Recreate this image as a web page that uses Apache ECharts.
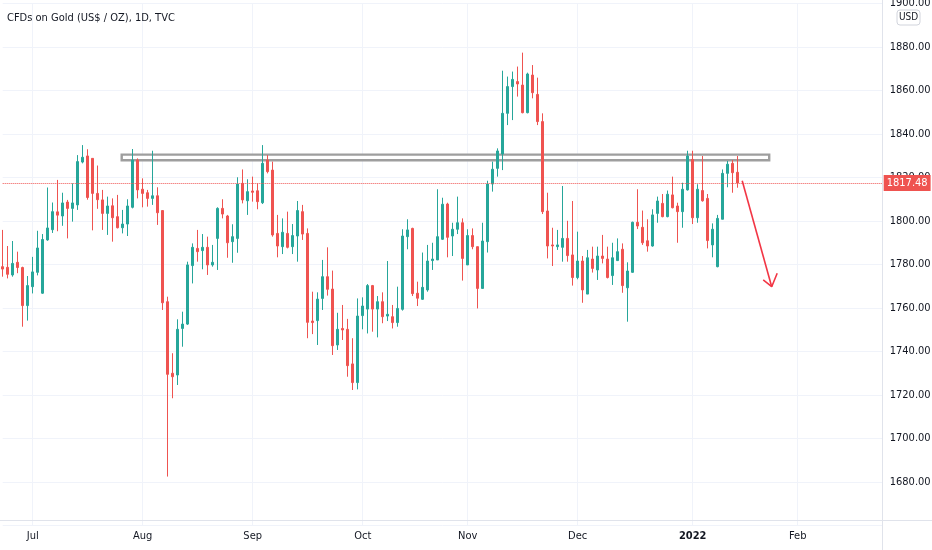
<!DOCTYPE html>
<html>
<head>
<meta charset="utf-8">
<script src="https://cdn.jsdelivr.net/npm/echarts@6/dist/echarts.min.js"></script>
<style>
html,body{margin:0;padding:0;background:#ffffff;}
#chart{width:932px;height:550px;}
</style>
</head>
<body>
<div id="chart"></div>
<script>
// ---- Data (daily candles, 23 Jun 2021 - 14 Jan 2022) ----
const titleText = 'CFDs on Gold (US$ / OZ), 1D, TVC';
const firstTradingDay = [2021, 5, 23];   // 23 Jun 2021 (month is 0-based)
const axisCategoryCount = 177;            // weekday slots shown on the time axis
const lastPrice = 1817.48;

const openPrices = [
  1779.0,1778.7,1775.2,1781.0,1778.6,1761.1,1769.8,1776.4,1766.8,1791.3,
  1796.0,1804.2,1802.3,1808.7,1805.8,1807.4,1827.1,1829.9,1828.8,1812.7,
  1809.7,1803.5,1807.0,1802.0,1796.9,1798.6,1806.3,1828.0,1814.6,1813.0,
  1810.4,1811.6,1804.8,1762.9,1730.0,1729.2,1750.6,1752.6,1779.5,1787.4,
  1786.4,1787.9,1779.8,1792.0,1805.8,1802.3,1790.5,1792.0,1817.3,1809.3,
  1813.8,1813.9,1808.4,1828.0,1823.4,1794.3,1788.2,1794.3,1788.2,1793.1,
  1804.3,1794.3,1754.0,1754.2,1764.4,1774.4,1768.7,1743.0,1750.6,1750.2,
  1734.3,1725.7,1756.5,1759.5,1770.3,1759.5,1762.9,1756.3,1756.0,1753.3,
  1759.4,1792.8,1796.6,1766.8,1764.0,1768.3,1781.8,1782.1,1791.6,1807.8,
  1793.1,1796.2,1799.2,1779.8,1793.3,1788.2,1769.0,1790.5,1817.0,1824.2,
  1830.8,1849.5,1861.8,1864.1,1862.5,1849.8,1867.1,1858.2,1845.7,1804.6,
  1789.0,1788.2,1787.9,1792.0,1784.4,1774.0,1781.6,1766.4,1782.5,1777.5,
  1783.9,1782.5,1774.9,1781.8,1787.0,1769.3,1776.4,1799.4,1797.1,1790.9,
  1788.5,1803.5,1808.1,1802.0,1812.0,1806.9,1804.3,1814.3,1828.3,1801.5,
  1814.0,1810.4,1789.0,1779.0,1800.8,1821.9,1826.5,1822.4
];
const closePrices = [
  1777.9,1775.5,1780.5,1778.6,1761.1,1770.3,1776.6,1787.6,1791.5,1796.8,
  1804.3,1802.7,1808.3,1805.8,1808.3,1827.3,1829.3,1810.8,1812.7,1809.8,
  1803.5,1806.9,1801.5,1796.9,1798.6,1806.9,1828.0,1814.3,1812.7,1810.4,
  1811.6,1803.8,1762.4,1729.5,1728.4,1750.2,1752.6,1779.8,1787.9,1785.9,
  1787.9,1779.8,1781.0,1805.8,1803.2,1790.0,1792.8,1817.0,1809.7,1813.5,
  1813.2,1808.9,1826.5,1822.7,1793.6,1788.5,1794.8,1787.9,1793.3,1804.8,
  1794.0,1753.4,1753.3,1764.1,1774.4,1768.6,1742.7,1750.2,1749.9,1733.5,
  1725.7,1756.3,1760.9,1770.3,1759.5,1762.9,1756.0,1757.1,1753.3,1759.8,
  1793.1,1795.9,1766.6,1764.5,1769.5,1781.6,1782.5,1792.8,1807.7,1792.5,
  1796.2,1799.2,1782.8,1793.3,1788.2,1769.0,1790.8,1817.0,1823.8,1832.2,
  1849.5,1861.8,1865.1,1863.0,1849.8,1867.6,1859.0,1845.7,1804.3,1788.5,
  1788.5,1789.0,1792.0,1784.1,1774.0,1781.6,1768.3,1783.1,1778.2,1783.9,
  1782.8,1774.0,1783.1,1785.9,1770.3,1777.0,1799.4,1797.7,1790.0,1788.5,
  1802.8,1809.2,1802.0,1812.3,1806.1,1804.3,1814.6,1829.9,1801.5,1814.6,
  1809.3,1791.0,1796.2,1801.2,1821.9,1826.1,1822.2,1817.48
];
const lowPrices = [
  1774.4,1773.6,1774.4,1776.0,1751.4,1754.2,1766.7,1775.0,1766.5,1790.9,
  1794.5,1795.3,1797.8,1792.0,1799.7,1805.1,1826.5,1809.8,1795.7,1805.6,
  1795.9,1793.6,1790.5,1796.6,1794.3,1793.1,1805.8,1810.4,1806.3,1806.6,
  1807.4,1798.2,1759.1,1682.5,1718.5,1724.6,1742.2,1752.2,1771.3,1781.3,
  1777.8,1775.2,1779.0,1777.5,1801.2,1783.1,1780.8,1785.4,1808.1,1802.8,
  1808.9,1805.4,1807.8,1821.9,1792.8,1783.3,1784.8,1787.4,1784.8,1781.3,
  1791.3,1746.1,1748.0,1743.0,1759.1,1765.7,1738.4,1740.7,1745.3,1728.4,
  1722.3,1722.6,1750.2,1748.3,1749.1,1746.5,1753.0,1754.0,1750.6,1751.4,
  1758.8,1787.0,1765.5,1760.9,1763.7,1767.5,1777.5,1782.1,1791.3,1783.3,
  1783.9,1794.0,1772.6,1779.8,1787.0,1759.8,1769.0,1785.5,1813.5,1820.4,
  1823.4,1844.1,1846.4,1857.2,1849.5,1849.5,1856.4,1844.1,1803.2,1782.8,
  1779.3,1786.7,1781.3,1781.3,1770.3,1773.2,1762.4,1766.4,1776.3,1772.9,
  1780.5,1773.6,1770.6,1781.6,1767.0,1753.7,1776.2,1796.3,1789.0,1785.9,
  1788.2,1799.2,1801.7,1801.7,1805.8,1790.0,1796.9,1814.0,1798.6,1799.2,
  1808.9,1787.4,1783.3,1778.7,1800.8,1815.5,1813.0,1815.3
];
const highPrices = [
  1795.9,1788.5,1790.8,1785.9,1779.0,1774.7,1783.5,1795.5,1794.0,1815.4,
  1808.5,1818.9,1813.0,1809.7,1817.3,1830.3,1834.9,1833.0,1828.8,1825.5,
  1814.3,1811.2,1810.4,1812.0,1805.1,1810.0,1833.1,1828.8,1819.6,1814.3,
  1832.3,1815.5,1804.8,1765.2,1739.2,1754.8,1758.3,1781.3,1789.7,1795.9,
  1794.0,1792.8,1789.0,1806.3,1810.0,1802.8,1798.5,1820.1,1823.7,1819.2,
  1820.4,1817.3,1834.9,1830.3,1827.3,1802.8,1801.2,1804.3,1798.6,1809.2,
  1807.4,1796.6,1767.5,1767.2,1782.1,1787.9,1777.2,1757.8,1761.4,1755.0,
  1746.1,1764.4,1764.9,1771.0,1770.6,1765.5,1767.2,1781.6,1761.4,1769.8,
  1796.2,1800.8,1796.9,1772.1,1785.5,1789.0,1790.0,1814.6,1810.7,1808.4,
  1799.2,1811.2,1801.2,1796.2,1796.6,1788.2,1799.2,1818.5,1827.3,1833.4,
  1869.1,1866.4,1868.7,1871.0,1877.4,1868.2,1871.7,1865.9,1849.5,1813.0,
  1796.9,1795.9,1816.1,1800.1,1809.2,1795.1,1783.9,1786.7,1788.2,1788.2,
  1793.6,1788.2,1790.0,1792.0,1789.7,1781.0,1799.7,1814.6,1804.8,1800.8,
  1805.4,1811.2,1812.4,1814.0,1820.4,1808.4,1817.6,1832.3,1832.3,1816.9,
  1829.9,1812.4,1798.9,1802.8,1823.7,1827.6,1828.0,1829.9
];

// Drawings (x = bar index, y = price)
const resistanceZone = [[23.8, 1830.5], [153.3, 1827.9]];
const arrowShaft = [[147.9, 1818.5], [153.8, 1769.8]];
const arrowHead = [[152.1, 1772.9], [153.8, 1769.8], [154.9, 1776.0]];

// Price axis
const priceMin = 1660, priceMax = 1900, priceStep = 20;
const monthNames = ['Jan','Feb','Mar','Apr','May','Jun','Jul','Aug','Sep','Oct','Nov','Dec'];

// ---- Build the weekday categories ----
const dates = [];
let t = Date.UTC(firstTradingDay[0], firstTradingDay[1], firstTradingDay[2]);
while (dates.length < axisCategoryCount) {
  const dd = new Date(t);
  const wd = dd.getUTCDay();
  if (wd !== 0 && wd !== 6) dates.push(dd.toISOString().slice(0, 10));
  t += 86400000;
}
const monthStart = new Set();
dates.forEach((s, i) => { if (i > 0 && s.slice(5, 7) !== dates[i - 1].slice(5, 7)) monthStart.add(i); });

const candles = openPrices.map((o, i) => [o, closePrices[i], lowPrices[i], highPrices[i]]);

const UP = '#26a69a', DOWN = '#ef5350', TXT = '#131722';
const FONT = "'DejaVu Sans Condensed','Liberation Sans',sans-serif";

const chart = echarts.init(document.getElementById('chart'), null, {renderer: 'canvas'});
chart.setOption({
  animation: false,
  backgroundColor: '#ffffff',
  textStyle: {fontFamily: FONT},
  title: {
    text: titleText, left: 7, top: 13, padding: 0,
    textStyle: {fontSize: 11, fontWeight: 'normal', color: TXT, fontFamily: FONT}
  },
  grid: {left: 2.7, right: 49.3, top: 3.5, bottom: 24.5, outerBoundsMode: 'none', containLabel: false},
  xAxis: [{
    type: 'category',
    data: dates,
    boundaryGap: false,
    axisLine: {show: false},
    axisTick: {show: false},
    axisLabel: {
      interval: (i) => monthStart.has(i),
      margin: 5,
      color: TXT,
      fontSize: 11,
      fontFamily: FONT,
      formatter: (v) => {
        const m = parseInt(v.slice(5, 7), 10) - 1;
        return m === 0 ? '{y|' + v.slice(0, 4) + '}' : monthNames[m];
      },
      rich: {y: {fontWeight: 'bold', fontSize: 11, color: TXT, fontFamily: FONT}}
    },
    splitLine: {show: true, interval: (i) => monthStart.has(i), lineStyle: {color: '#f0f3fa', width: 1}}
  }, {
    type: 'value', min: 0, max: axisCategoryCount - 1, show: false
  }],
  yAxis: {
    type: 'value',
    position: 'right',
    min: priceMin, max: priceMax, interval: priceStep,
    axisLine: {show: false},
    axisTick: {show: false},
    axisLabel: {
      showMinLabel: false,
      margin: 7,
      color: TXT,
      fontSize: 11,
      fontFamily: FONT,
      formatter: (v) => v.toFixed(2)
    },
    splitLine: {lineStyle: {color: '#f0f3fa', width: 1}}
  },
  graphic: [
    {type: 'line', shape: {x1: 0, y1: 520.5, x2: 932, y2: 520.5}, style: {stroke: '#e0e3eb', lineWidth: 1}, z: 10},
    {type: 'line', shape: {x1: 882.5, y1: 0, x2: 882.5, y2: 550}, style: {stroke: '#e0e3eb', lineWidth: 1}, z: 10},
    {type: 'rect', shape: {x: 897, y: 10, width: 23, height: 15, r: 3}, style: {fill: '#ffffff', stroke: '#d1d4dc', lineWidth: 1}, z: 11},
    {type: 'text', x: 908.5, y: 17.5, style: {text: 'USD', fill: TXT, fontSize: 10, fontFamily: FONT, textAlign: 'center', textVerticalAlign: 'middle'}, z: 12}
  ],
  series: [{
    type: 'candlestick',
    name: 'Gold',
    data: candles,
    barWidth: 3,
    itemStyle: {color: UP, color0: DOWN, borderColor: UP, borderColor0: DOWN, borderWidth: 1},
    z: 3,
    markLine: {
      silent: true,
      symbol: ['none', 'none'],
      lineStyle: {type: 'dotted', color: DOWN, width: 1},
      label: {
        show: true, position: 'end', distance: 1,
        formatter: lastPrice.toFixed(2),
        color: '#ffffff', backgroundColor: DOWN, padding: [3, 3, 2, 3],
        fontSize: 11, fontFamily: FONT
      },
      data: [{yAxis: lastPrice}]
    }
  }, {
    type: 'line',
    name: 'zone',
    xAxisIndex: 1,
    data: [],
    silent: true,
    z: 4,
    markArea: {
      silent: true,
      itemStyle: {color: 'rgba(255,255,255,0.85)', borderColor: '#9e9e9e', borderWidth: 2.4},
      data: [[{coord: resistanceZone[0]}, {coord: resistanceZone[1]}]]
    }
  }, {
    type: 'line',
    name: 'arrow',
    xAxisIndex: 1,
    data: arrowShaft,
    symbol: 'none',
    silent: true,
    z: 6,
    lineStyle: {color: '#f23645', width: 1.6}
  }, {
    type: 'line',
    name: 'arrowHead',
    xAxisIndex: 1,
    data: arrowHead,
    symbol: 'none',
    silent: true,
    z: 6,
    lineStyle: {color: '#f23645', width: 1.6}
  }]
});
</script>
</body>
</html>
